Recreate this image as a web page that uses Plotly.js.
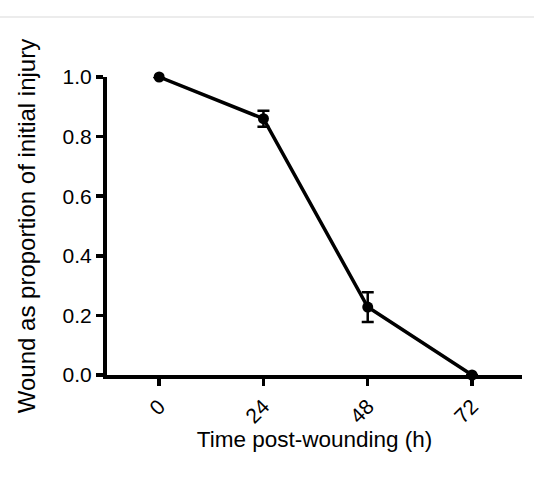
<!DOCTYPE html>
<html>
<head>
<meta charset="utf-8">
<script src="https://cdn.plot.ly/plotly-3.0.1.min.js"></script>
<style>html,body{margin:0;padding:0;background:#fff;}#chart{width:534px;height:483px;}</style>
</head>
<body>
<div id="chart"></div>
<script>
const timeHours = [0, 24, 48, 72];
const woundProportion = [1.0, 0.86, 0.228, 0.0];
const woundError = [0, 0.027, 0.05, 0];
const xTickLabels = ["0", "24", "48", "72"];
const yTickValues = [0, 0.2, 0.4, 0.6, 0.8, 1.0];

const FONT = "Liberation Sans, Arial, Helvetica, sans-serif";

const trace = {
  x: timeHours,
  y: woundProportion,
  type: "scatter",
  mode: "lines+markers",
  line: {color: "#000", width: 3.5},
  marker: {color: "#000", size: 11},
  error_y: {type: "data", array: woundError, visible: true, color: "#000", thickness: 2.5, width: 6},
  cliponaxis: false,
  showlegend: false,
  hoverinfo: "none"
};

const layout = {
  width: 534,
  height: 483,
  margin: {l: 107, r: 12, t: 77, b: 108, pad: 0},
  paper_bgcolor: "#fff",
  plot_bgcolor: "#fff",
  font: {family: FONT, color: "#000"},
  xaxis: {
    range: [-12, 83.5],
    tickvals: timeHours,
    ticktext: xTickLabels,
    tickangle: -45,
    ticks: "outside",
    ticklen: 7,
    tickwidth: 3.5,
    tickcolor: "#000",
    showline: true,
    linecolor: "#000",
    linewidth: 4,
    showgrid: false,
    zeroline: false,
    tickfont: {size: 21, family: FONT, color: "#000"},
    title: {text: "Time post-wounding (h)", font: {size: 22.5, family: FONT, color: "#000"}, standoff: 2},
    fixedrange: true
  },
  yaxis: {
    range: [0, 1],
    tickvals: yTickValues,
    tickformat: ".1f",
    ticks: "outside",
    ticklen: 7,
    tickwidth: 3.5,
    tickcolor: "#000",
    showline: true,
    linecolor: "#000",
    linewidth: 4,
    showgrid: false,
    zeroline: false,
    tickfont: {size: 21, family: FONT, color: "#000"},
    title: {text: "Wound as proportion of initial injury", font: {size: 24, family: FONT, color: "#000"}, standoff: 21},
    fixedrange: true
  },
  shapes: [{
    type: "line", xref: "paper", yref: "paper",
    x0: -0.3, x1: 1.1, y0: 1.201, y1: 1.201,
    line: {color: "#e6e6e6", width: 1.5}
  }]
};

Plotly.newPlot("chart", [trace], layout, {staticPlot: true, displayModeBar: false});
</script>
</body>
</html>
